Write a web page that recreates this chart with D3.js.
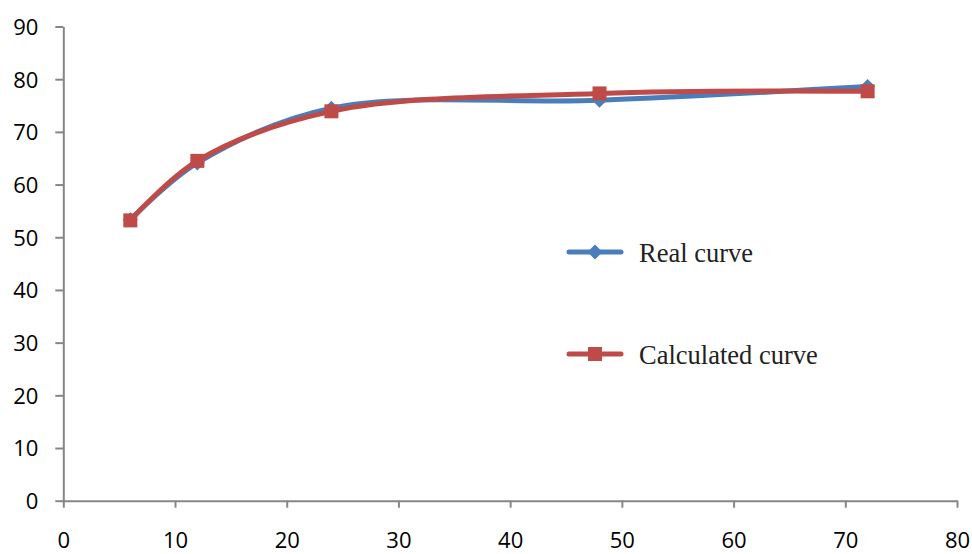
<!DOCTYPE html>
<html>
<head>
<meta charset="utf-8">
<script src="https://cdn.jsdelivr.net/npm/d3@7.8.5/dist/d3.min.js"></script>
<style>
  body { margin: 0; background: #fff; }
  svg { display: block; }
</style>
</head>
<body>
<div id="chart"></div>
<script>
// values
const hours = [6, 12, 24, 48, 72];
const realCurve = [53.3, 64.1, 74.5, 76.0, 78.6];
const calculatedCurve = [53.2, 64.5, 73.9, 77.3, 77.7];
const xTicks = [0, 10, 20, 30, 40, 50, 60, 70, 80];
const yTicks = [0, 10, 20, 30, 40, 50, 60, 70, 80, 90];
const seriesNames = ["Real curve", "Calculated curve"];

const width = 972, height = 554;
const margin = { top: 26.5, right: 15, bottom: 53.3, left: 63.3 };

const svg = d3.select("#chart").append("svg")
  .attr("width", width)
  .attr("height", height);

const x = d3.scaleLinear()
  .domain([0, 80])
  .range([margin.left, width - margin.right]);

const y = d3.scaleLinear()
  .domain([0, 90])
  .range([height - margin.bottom, margin.top]);

const axisColor = "#868686";
const labelFont = "'Open Sans', 'Liberation Sans', sans-serif";

// y axis
const yAxis = svg.append("g")
  .attr("transform", `translate(${x(0)},0)`)
  .call(d3.axisLeft(y).tickValues(yTicks).tickSize(8).tickSizeOuter(0).tickPadding(17));

// x axis
const xAxis = svg.append("g")
  .attr("transform", `translate(0,${y(0)})`)
  .call(d3.axisBottom(x).tickValues(xTicks).tickSize(7).tickSizeOuter(0).tickPadding(25));

[yAxis, xAxis].forEach(g => {
  g.select(".domain").attr("stroke", axisColor).attr("stroke-width", 2);
  g.selectAll(".tick line").attr("stroke", axisColor).attr("stroke-width", 2);
  g.selectAll(".tick text")
    .style("font-family", labelFont)
    .style("font-size", "22px")
    .attr("fill", "#000");
});
yAxis.selectAll(".tick text").attr("dy", "0.36em");

const series = [
  { name: seriesNames[0], values: realCurve, color: "#4A7EBB", marker: "diamond" },
  { name: seriesNames[1], values: calculatedCurve, color: "#BE4B48", marker: "square" }
];

const line = d3.line()
  .x(d => x(d[0]))
  .y(d => y(d[1]))
  .curve(d3.curveCatmullRom.alpha(0.5));

function drawMarker(g, type, cx, cy, color) {
  if (type === "square") {
    g.append("rect")
      .attr("x", cx - 7).attr("y", cy - 7)
      .attr("width", 14).attr("height", 14)
      .attr("fill", color);
  } else {
    const r = 7.5;
    g.append("path")
      .attr("d", `M${cx},${cy - r}L${cx + r},${cy}L${cx},${cy + r}L${cx - r},${cy}Z`)
      .attr("fill", color);
  }
}

series.forEach(s => {
  const pts = hours.map((h, i) => [h, s.values[i]]);
  const g = svg.append("g");
  g.append("path")
    .datum(pts)
    .attr("d", line)
    .attr("fill", "none")
    .attr("stroke", s.color)
    .attr("stroke-width", 5)
    .attr("stroke-linecap", "round");
  pts.forEach(p => drawMarker(g, s.marker, x(p[0]), y(p[1]), s.color));
});

// legend
const legendY = [252, 354];
series.forEach((s, i) => {
  const g = svg.append("g");
  g.append("line")
    .attr("x1", 569).attr("x2", 621)
    .attr("y1", legendY[i]).attr("y2", legendY[i])
    .attr("stroke", s.color)
    .attr("stroke-width", 5)
    .attr("stroke-linecap", "round");
  drawMarker(g, s.marker, 595, legendY[i], s.color);
  g.append("text")
    .attr("x", 639)
    .attr("y", legendY[i] + 10)
    .style("font-family", "'Liberation Serif', 'Times New Roman', serif")
    .style("font-size", "26.5px")
    .attr("fill", "#222")
    .text(s.name);
});
</script>
</body>
</html>
